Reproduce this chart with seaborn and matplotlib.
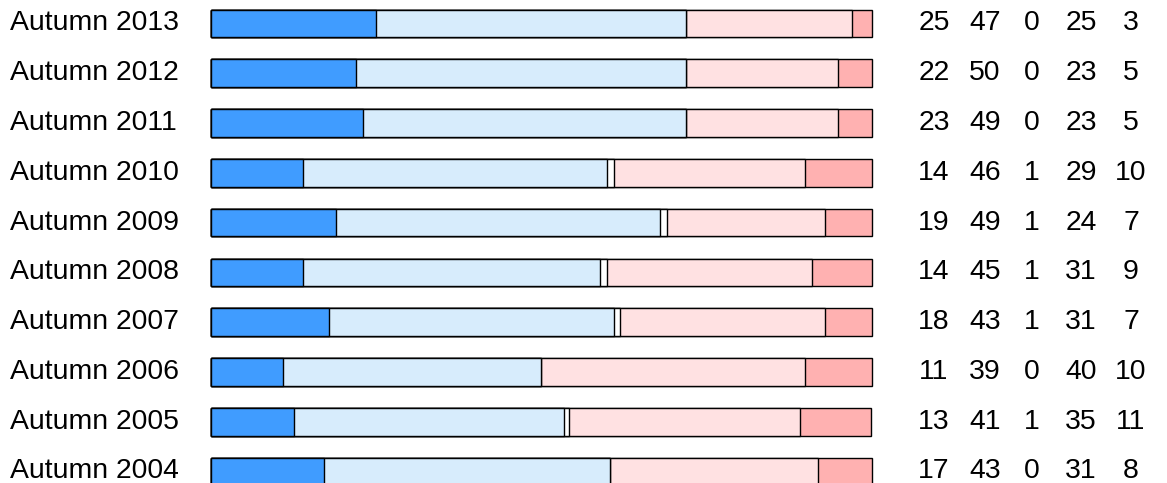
import numpy as np
import pandas as pd
import matplotlib.pyplot as plt
import seaborn as sns
from matplotlib.transforms import blended_transform_factory

sns.set_style("white")
plt.rcParams['font.family'] = ['Liberation Sans', 'DejaVu Sans']

years = ["Autumn 2013", "Autumn 2012", "Autumn 2011", "Autumn 2010", "Autumn 2009",
         "Autumn 2008", "Autumn 2007", "Autumn 2006", "Autumn 2005", "Autumn 2004"]

# printed (rounded) percentages
lab_strong_pos = [25, 22, 23, 14, 19, 14, 18, 11, 13, 17]
lab_pos = [47, 50, 49, 46, 49, 45, 43, 39, 41, 43]
lab_neutral = [0, 0, 0, 1, 1, 1, 1, 0, 1, 0]
lab_neg = [25, 23, 23, 29, 24, 31, 31, 40, 35, 31]
lab_strong_neg = [3, 5, 5, 10, 7, 9, 7, 10, 11, 8]

# bar lengths as drawn (unrounded)
strong_pos = [25, 22, 23, 14, 19, 14, 18, 11, 12.7, 17.1]
pos = [47, 50, 49, 46, 49, 45, 43, 39, 40.8, 43.4]
neutral = [0, 0, 0, 1, 1, 1, 1, 0, 0.8, 0]
neg = [25, 23, 23, 29, 24, 31, 31, 40, 34.9, 31.4]
strong_neg = [3, 5, 5, 10, 7, 9, 7, 10, 10.8, 8.1]

series = [strong_pos, pos, neutral, neg, strong_neg]
labels = [lab_strong_pos, lab_pos, lab_neutral, lab_neg, lab_strong_neg]
colors = ["#409CFF", "#D7ECFC", "#FFFFFF", "#FFE1E2", "#FFB1B1"]

df = pd.DataFrame({"year": years})
cums = np.cumsum(np.array(series), axis=0)

fig = plt.figure(figsize=(11.67, 4.83), dpi=100)
ax = fig.add_axes([210.5 / 1167, -0.0277, 661 / 1167, 1.0306])

# stacked bars: draw the longest cumulative first, then overlay shorter ones
for i in range(len(series) - 1, -1, -1):
    df["val"] = cums[i]
    sns.barplot(data=df, x="val", y="year", orient="h", color=colors[i],
                saturation=1, edgecolor="black", linewidth=1, width=0.554, ax=ax)

for p in ax.patches:
    p.set_clip_on(False)

ax.set_xlim(0, 100)
ax.set_ylim(9.5, -0.5)
ax.axis("off")

trans = blended_transform_factory(fig.transFigure, ax.transData)
for r, lab in enumerate(years):
    fig.text(10 / 1167, r, lab, transform=trans, ha="left", va="center",
             fontsize=20.4, color="black")

col_x = [934, 985, 1032, 1081, 1131]
for r in range(len(years)):
    for c, s in enumerate(labels):
        fig.text(col_x[c] / 1167, r, str(s[r]), transform=trans,
                 ha="center", va="center", fontsize=20.4, color="black")

fig.savefig("out.png", dpi=100)
